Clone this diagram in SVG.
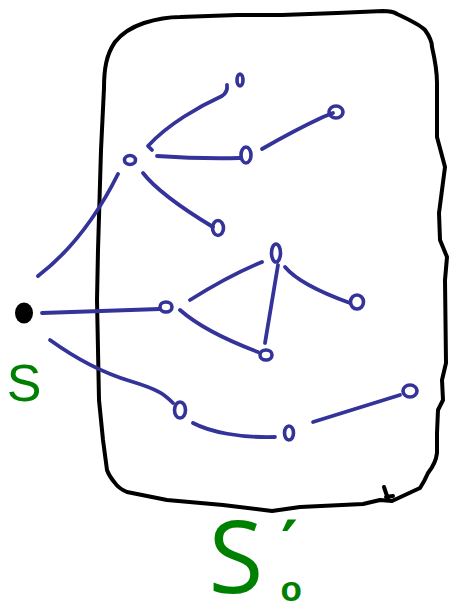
<svg xmlns="http://www.w3.org/2000/svg" width="451" height="603" viewBox="0 0 451 603">
<style>
.box{fill:none;stroke:#000;stroke-width:4;stroke-linejoin:round;stroke-linecap:round}
.nd{fill:none;stroke:#333399;stroke-width:3.6}
.ed{fill:none;stroke:#333399;stroke-width:3.8;stroke-linecap:round;stroke-linejoin:round}
.lbl{fill:#008000}
</style>
<rect width="451" height="603" fill="#fff"/>
<g id="S0prime">
<path class="box" d="M104,88 C104,70 106,55 115,42 C123,32 135,26 144,23 C160,18 170,17 180,17 L237,15 L282,15 L337,13 L383,11 C390,11 394,12 397,14 C410,20 420,25 425,30 C430,37 432,42 432,47 C435,60 437,70 437,83 L437,137 L445,167 L439,213 L440,240 L447,257 L445,280 L446,363 L442,380 L443,400 L438,410 L437,433 L437,453 C436,462 432,468 428,473 C425,480 422,485 420,488 L392,501 L380,500 L363,504 L300,507 L272,511 L223,505 L167,500 L127,492 C120,489 117,486 115,483 C110,477 108,473 107,470 L103,440 L99,400 L97,300 L98,250 L101,150 Z"/>
<path class="box" d="M384,487 L388,499 M386,497 L393,496" stroke-width="2.5"/>
<text class="lbl"><tspan x="208.5" y="593" font-family="'Open Sans', Roboto, Inter, 'Liberation Sans', sans-serif" font-size="100">S</tspan><tspan x="281" y="566" font-family="'DejaVu Sans', sans-serif" font-weight="bold" font-size="64">′</tspan><tspan x="280.5" y="601" font-family="'Liberation Sans', sans-serif" font-weight="bold" font-size="35">o</tspan></text>
</g>
<g id="connectors">
<path class="ed" d="M38,276 Q85,240 118,174"/>
<path class="ed" d="M152,150 L148,146 C168,124 200,106 222,96 Q228,92 227,85"/>
<path class="ed" d="M157,156 Q200,159 240,158"/>
<path class="ed" d="M262,149 Q295,130 323,117 L333,113"/>
<path class="ed" d="M143,173 Q160,195 213,227"/>
<path class="ed" d="M42,313 L160,309"/>
<path class="ed" d="M190,300 Q230,275 262,262"/>
<path class="ed" d="M278,265 L265,343"/>
<path class="ed" d="M180,310 Q205,332 258,352"/>
<path class="ed" d="M285,267 Q300,285 350,303"/>
<path class="ed" d="M50,340 C75,358 100,372 130,381 S165,395 173,403"/>
<path class="ed" d="M193,423 C210,432 240,438 275,437"/>
<path class="ed" d="M313,422 L400,395"/>
</g>
<g id="S">
<ellipse cx="24" cy="313" rx="9" ry="10.5" fill="#000"/>
<text class="lbl" x="24" y="401" font-family="'Liberation Sans', Arial, sans-serif" font-size="52" text-anchor="middle">S</text>
</g>
<g id="n1"><ellipse class="nd" cx="130" cy="160" rx="5.5" ry="4.5"/></g>
<g id="n2"><ellipse class="nd" cx="240" cy="80" rx="3" ry="6"/></g>
<g id="n3"><ellipse class="nd" cx="246" cy="155" rx="5" ry="8"/></g>
<g id="n4"><ellipse class="nd" cx="336" cy="112" rx="7" ry="6"/></g>
<g id="n5"><ellipse class="nd" cx="218" cy="228" rx="5.5" ry="7.5"/></g>
<g id="n6"><ellipse class="nd" cx="276" cy="253" rx="4.5" ry="9"/></g>
<g id="n7"><ellipse class="nd" cx="166" cy="307" rx="6" ry="5"/></g>
<g id="n8"><ellipse class="nd" cx="266" cy="355" rx="6" ry="5"/></g>
<g id="n9"><ellipse class="nd" cx="357" cy="302" rx="6.5" ry="7"/></g>
<g id="n10"><ellipse class="nd" cx="180" cy="410" rx="5.5" ry="8"/></g>
<g id="n11"><ellipse class="nd" cx="289" cy="433" rx="4.5" ry="7"/></g>
<g id="n12"><ellipse class="nd" cx="410" cy="391" rx="7" ry="6"/></g>
</svg>
